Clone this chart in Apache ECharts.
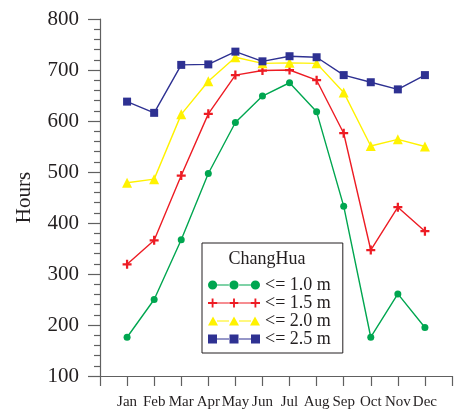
<!DOCTYPE html>
<html>
<head>
<meta charset="utf-8">
<script src="https://cdn.jsdelivr.net/npm/echarts@6/dist/echarts.min.js"></script>
<style>
  html, body { margin: 0; padding: 0; background: #fff; }
  #chart { width: 455px; height: 416px; }
</style>
</head>
<body>
<div id="chart"></div>
<script>
// Monthly hours at ChangHua by wave-height threshold
const months = ['Jan', 'Feb', 'Mar', 'Apr', 'May', 'Jun', 'Jul', 'Aug', 'Sep', 'Oct', 'Nov', 'Dec'];
const seriesNames = ['<= 1.0 m', '<= 1.5 m', '<= 2.0 m', '<= 2.5 m'];
const le10 = [176, 250, 367, 497, 597, 649, 675, 618, 433, 176, 261, 195];
const le15 = [319, 366, 493, 614, 690, 699, 700, 680, 576, 347, 431, 384];
const le20 = [479, 486, 613, 678, 725, 713, 714, 713, 656, 551, 564, 550];
const le25 = [638, 616, 710, 711, 736, 717, 727, 725, 690, 676, 662, 690];
const yTicks = [100, 200, 300, 400, 500, 600, 700, 800];
const stationName = 'ChangHua';

const colors = ['#00a650', '#ed1c24', '#fff200', '#2e3192'];
const symbols = ['circle', 'path://M-1 -4 H1 V-1 H4 V1 H1 V4 H-1 V1 H-4 V-1 H-1 Z', 'triangle', 'rect'];
const symbolSizes = [7, 9, 10, 8];
const values = [le10, le15, le20, le25];

// Legend icons: a short line carrying three markers, drawn in a 52 x 10 box
function lineBars() {
  return 'M9 4.4 H21 V5.6 H9 Z M31 4.4 H43 V5.6 H31 Z ';
}
function circles() {
  let p = '';
  [5, 26, 47].forEach(c => {
    p += `M${c - 4.5} 5 A4.5 4.5 0 1 1 ${c + 4.5} 5 A4.5 4.5 0 1 1 ${c - 4.5} 5 Z `;
  });
  return 'path://' + lineBars() + p;
}
function crosses() {
  let p = '';
  [5, 26, 47].forEach(c => {
    p += `M${c - 0.9} 0.5 H${c + 0.9} V4.1 H${c + 4.5} V5.9 H${c + 0.9} V9.5 H${c - 0.9} V5.9 H${c - 4.5} V4.1 H${c - 0.9} Z `;
  });
  return 'path://' + lineBars() + p;
}
function triangles() {
  let p = '';
  [5, 26, 47].forEach(c => {
    p += `M${c} 0.5 L${c + 5} 9.5 L${c - 5} 9.5 Z `;
  });
  return 'path://' + lineBars() + p;
}
function squares() {
  let p = '';
  [4.5, 26, 47.5].forEach(c => {
    p += `M${c - 4.5} 0.5 H${c + 4.5} V9.5 H${c - 4.5} Z `;
  });
  return 'path://' + lineBars() + p;
}
const legendIcons = [circles(), crosses(), triangles(), squares()];

const serif = "'Liberation Serif', 'Times New Roman', serif";
const axisGray = '#606060';

const chart = echarts.init(document.getElementById('chart'), null, { renderer: 'canvas' });
chart.setOption({
  animation: false,
  backgroundColor: '#ffffff',
  textStyle: { fontFamily: serif },
  title: {
    text: stationName,
    left: 267,
    top: 250,
    textAlign: 'center',
    padding: 0,
    textStyle: { fontFamily: serif, fontSize: 18, fontWeight: 'normal', color: '#231f20' }
  },
  legend: {
    orient: 'vertical',
    left: 202,
    top: 243,
    padding: [33, 12, 5, 6],
    itemGap: 0,
    itemWidth: 52,
    itemHeight: 10,
    borderColor: '#231f20',
    borderWidth: 1,
    backgroundColor: '#ffffff',
    selectedMode: false,
    textStyle: { fontFamily: serif, fontSize: 18, color: '#231f20', lineHeight: 17.4 },
    data: seriesNames.map((n, i) => ({ name: n, icon: legendIcons[i] }))
  },
  grid: { left: 100, top: 19, right: -3, bottom: 40, containLabel: false },
  xAxis: {
    type: 'value',
    min: 0,
    max: 13,
    interval: 1,
    splitLine: { show: false },
    axisLine: { lineStyle: { color: axisGray, width: 1.2 } },
    axisTick: { length: 10, lineStyle: { color: axisGray, width: 1.2 } },
    axisLabel: {
      margin: 19,
      fontFamily: serif,
      fontSize: 15,
      color: '#231f20',
      formatter: v => (v >= 1 && v <= 12 ? months[v - 1] : '')
    }
  },
  yAxis: {
    type: 'value',
    min: yTicks[0],
    max: yTicks[yTicks.length - 1],
    interval: 100,
    name: 'Hours',
    nameLocation: 'middle',
    nameGap: 65,
    nameTextStyle: { fontFamily: serif, fontSize: 21, color: '#231f20' },
    splitLine: { show: false },
    axisLine: { show: true, lineStyle: { color: axisGray, width: 1.2 } },
    axisTick: { length: 12, lineStyle: { color: axisGray, width: 1.2 } },
    minorTick: { show: true, splitNumber: 5, length: 6, lineStyle: { color: axisGray, width: 1.2 } },
    axisLabel: { margin: 21, fontFamily: serif, fontSize: 21, color: '#231f20' }
  },
  series: values.map((vals, i) => ({
    name: seriesNames[i],
    type: 'line',
    data: vals.map((v, k) => [k + 1, v]),
    symbol: symbols[i],
    symbolSize: symbolSizes[i],
    showSymbol: true,
    color: colors[i],
    lineStyle: { color: colors[i], width: 1.4 },
    itemStyle: { color: colors[i], borderWidth: 0 },
    z: 2 + i
  }))
});
</script>
</body>
</html>
